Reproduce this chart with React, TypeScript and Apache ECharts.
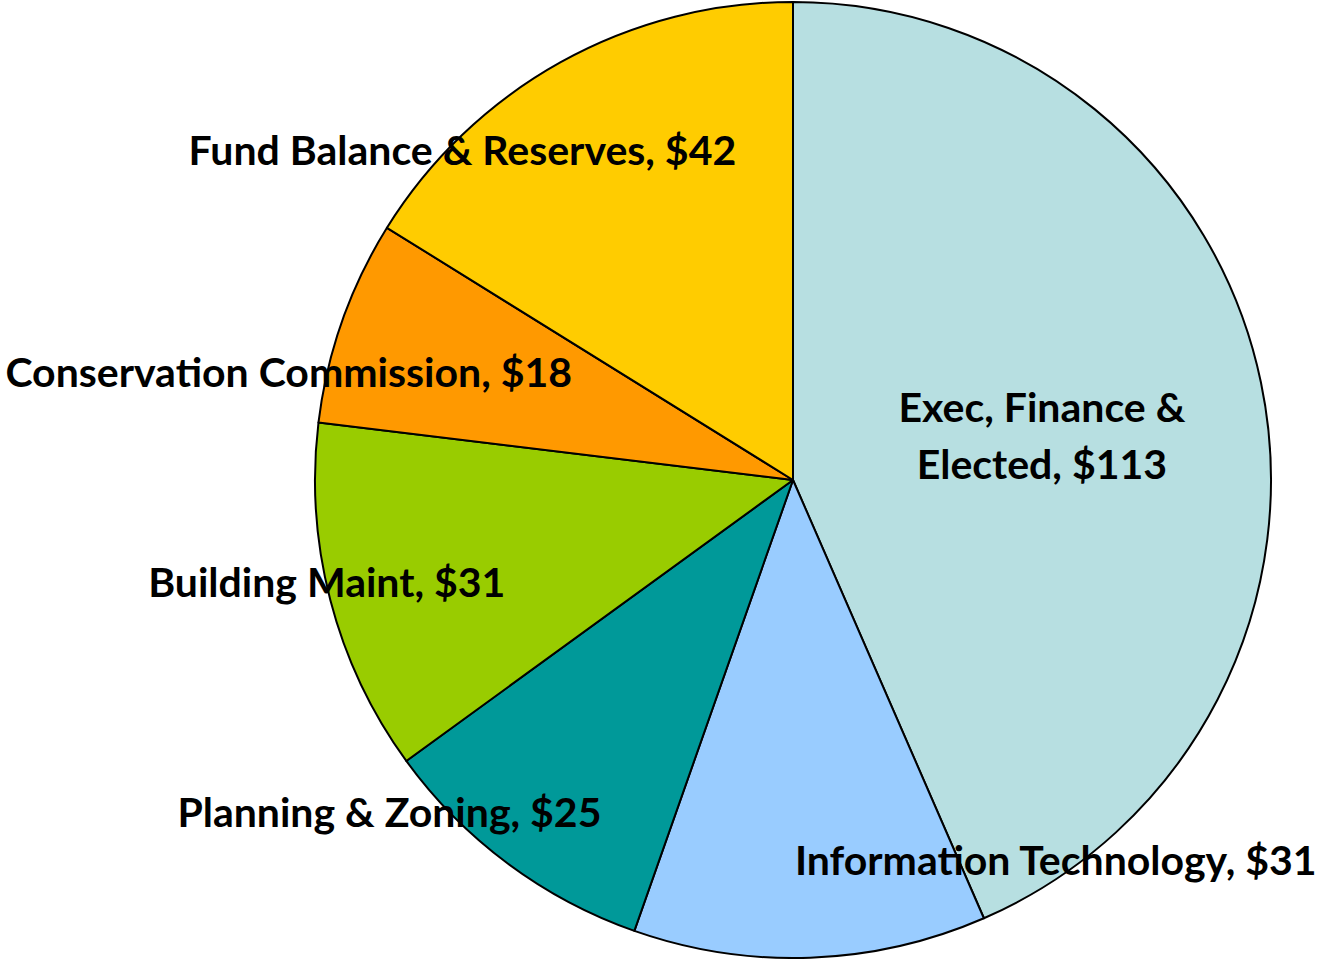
import React, { useEffect, useRef } from "react";
import * as echarts from "echarts";

const categories = [
  "Exec, Finance &\nElected",
  "Information Technology",
  "Planning & Zoning",
  "Building Maint",
  "Conservation Commission",
  "Fund Balance & Reserves",
];
const values = [113, 31, 25, 31, 18, 42];
const colors = ["#B7DFE1", "#99CCFF", "#009999", "#99CC00", "#FF9900", "#FFCC00"];
// label shifts from the default "inside" spot, px
const labelShiftX = [12, 254, -259, -232, -276, -213];
const labelShiftY = [4, 138, 137, 41, -28, -119];

export default function App() {
  const ref = useRef<HTMLDivElement>(null);
  useEffect(() => {
    if (!ref.current) return;
    const chart = echarts.init(ref.current, undefined, { renderer: "svg" });
    chart.setOption({
      animation: false,
      backgroundColor: "#ffffff",
      series: [
        {
          type: "pie",
          center: [793, 480],
          radius: [0, 478],
          startAngle: 90,
          clockwise: true,
          avoidLabelOverlap: false,
          data: categories.map((name, i) => ({
            name,
            value: values[i],
            itemStyle: { color: colors[i] },
          })),
          itemStyle: { borderColor: "#000000", borderWidth: 2 },
          label: {
            show: true,
            position: "inside",
            formatter: (p: any) => `${p.name}, $${p.value}`,
            fontFamily: "Lato",
            fontWeight: "bold",
            fontSize: 41,
            lineHeight: 57,
            color: "#000000",
            align: "center",
          },
          labelLine: { show: false },
          labelLayout: (p: any) => ({
            dx: labelShiftX[p.dataIndex],
            dy: labelShiftY[p.dataIndex],
          }),
          emphasis: { disabled: true },
        },
      ],
    });
    return () => chart.dispose();
  }, []);
  return (
    <div
      ref={ref}
      style={{ position: "fixed", left: 0, top: 0, width: 1325, height: 959 }}
    />
  );
}
